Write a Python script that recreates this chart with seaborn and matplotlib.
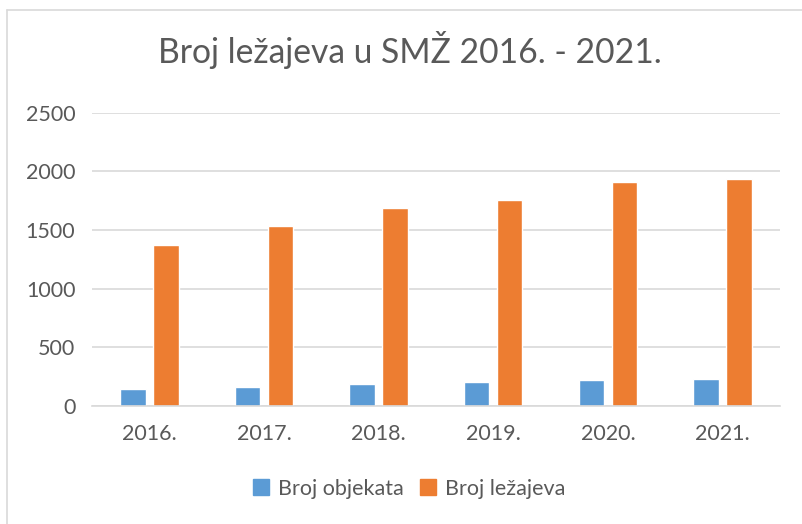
import pandas as pd
import matplotlib.pyplot as plt
import seaborn as sns
from matplotlib.lines import Line2D

# data
years = ['2016.', '2017.', '2018.', '2019.', '2020.', '2021.']
broj_objekata = [142, 160, 183, 200, 219, 225]
broj_lezajeva = [1368, 1536, 1689, 1755, 1906, 1932]
series = ['Broj objekata', 'Broj ležajeva']

df = pd.DataFrame({
    'Godina': years * 2,
    'Serija': [series[0]] * len(years) + [series[1]] * len(years),
    'Vrijednost': broj_objekata + broj_lezajeva,
})

colors = ['#5B9BD5', '#ED7D31']
text_col = '#595959'
grid_col = '#D9D9D9'

sns.set_style('white')
plt.rcParams['font.family'] = ['Lato', 'DejaVu Sans']

fig = plt.figure(figsize=(8.03, 5.24), dpi=100)
ax = fig.add_axes([0.1146, 0.2255, 0.8566, 0.5595])

sns.barplot(data=df, x='Godina', y='Vrijednost', hue='Serija', palette=colors,
            width=0.576, gap=0.23, ax=ax, legend=False, saturation=1)

ax.set_ylim(0, 2500)
ax.set_xlim(-0.5, 5.5)
ax.set_yticks(range(0, 2501, 500))
ax.yaxis.grid(True, color=grid_col, linewidth=1.2)
ax.set_axisbelow(True)
for s in ['top', 'right', 'left']:
    ax.spines[s].set_visible(False)
ax.spines['bottom'].set_color(grid_col)
ax.spines['bottom'].set_linewidth(1.2)
ax.tick_params(axis='both', length=0, labelsize=15.5, labelcolor=text_col)
ax.tick_params(axis='y', pad=12)
ax.tick_params(axis='x', pad=13)
ax.set_xlabel('')
ax.set_ylabel('')

fig.text(0.511, 0.905, 'Broj ležajeva u SMŽ 2016. - 2021.', ha='center', va='center',
         fontsize=24.2, color=text_col)

handles = [Line2D([], [], marker='s', linestyle='', markersize=12,
                  markerfacecolor=c, markeredgecolor=c) for c in colors]
fig.legend(handles, series, loc='center', bbox_to_anchor=(0.508, 0.067), ncol=2,
           frameon=False, fontsize=15.5, labelcolor=text_col, handletextpad=0.3,
           columnspacing=0.6, handlelength=1.0)

# chart border (top and left visible in the crop)
fig.add_artist(Line2D([0.0087, 1.0], [1 - 10 / 524, 1 - 10 / 524], color=grid_col, linewidth=1.2))
fig.add_artist(Line2D([0.0087, 0.0087], [0.0, 1 - 10 / 524], color=grid_col, linewidth=1.2))

fig.savefig('out.png', dpi=100)
